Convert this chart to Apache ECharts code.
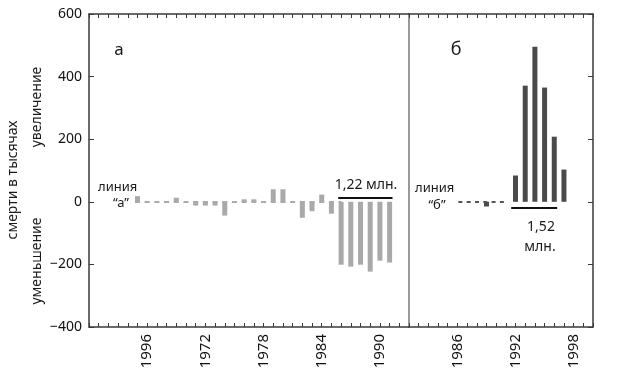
<!DOCTYPE html>
<html>
<head>
	<meta charset="UTF-8" />
	<title>Смерти в тысячах</title>
	<style>
		html, body { margin: 0; padding: 0; background: #fff; }
		#chart { width: 635px; height: 378px; }
	</style>
	<script type="text/javascript" src="https://cdn.jsdelivr.net/npm/echarts@6/dist/echarts.min.js"></script>
</head>
<body>
	<div id="chart"></div>
	<script>
		// панель "а"
		var leftYears = [1965, 1966, 1967, 1968, 1969, 1970, 1971, 1972, 1973, 1974, 1975, 1976, 1977, 1978,
			1979, 1980, 1981, 1982, 1983, 1984, 1985, 1986, 1987, 1988, 1989, 1990, 1991];
		var leftValues = [18, 0, 0, 0, 13, 0, -12, -12, -12, -44, 0, 8, 8, 0,
			40, 40, 0, -51, -30, 23, -38, -201, -207, -201, -223, -188, -194];
		var leftLabelYears = [1966, 1972, 1978, 1984, 1990];
		var leftLabelText = ["1996", "1972", "1978", "1984", "1990"];

		// панель "б"
		var rightYears = [1989, 1992, 1993, 1994, 1995, 1996, 1997];
		var rightValues = [-15, 84, 371, 495, 365, 208, 103];
		var rightLabelYears = [1986, 1992, 1998];
		var rightLabelText = ["1986", "1992", "1998"];

		var FONT = "Noto Sans";
		var AXIS = "#3a3a3a";

		var myChart = echarts.init(document.getElementById("chart"));

		function pairs(xs, ys) {
			return xs.map(function (x, i) { return [x, ys[i]]; });
		}

		// годовые засечки: interval 1, подписи только у нужных лет
		function xAxis(gridIndex, min, max, pos, labelYears, labelText) {
			return {
				type: "value",
				gridIndex: gridIndex,
				position: pos,
				min: min,
				max: max,
				interval: 1,
				splitLine: { show: false },
				axisLine: { show: true, onZero: false, lineStyle: { color: AXIS, width: 1.5 } },
				axisTick: { show: true, inside: true, length: 4, lineStyle: { color: AXIS, width: 1 } },
				axisLabel: {
					show: !!labelYears,
					rotate: 90,
					margin: 7,
					color: "#111",
					fontFamily: FONT,
					fontSize: 15,
					showMinLabel: true,
					showMaxLabel: true,
					formatter: function (v) {
						if (!labelYears) return "";
						var i = labelYears.indexOf(v);
						return i >= 0 ? labelText[i] : "";
					}
				}
			};
		}

		function yAxis(gridIndex, pos, labels, lineColor, ticks) {
			return {
				type: "value",
				gridIndex: gridIndex,
				position: pos,
				min: -400,
				max: 600,
				interval: 200,
				splitLine: { show: false },
				axisLine: { show: true, lineStyle: { color: lineColor, width: 1.5 } },
				axisTick: { show: ticks, inside: true, length: 5, lineStyle: { color: AXIS } },
				axisLabel: {
					show: labels,
					margin: 7,
					color: "#111",
					fontFamily: FONT,
					fontSize: 14,
					formatter: function (v) { return String(v).replace("-", "\u2212"); }
				}
			};
		}

		function text(t, x, y, size, align, rot) {
			return {
				type: "text",
				x: x,
				y: y,
				rotation: rot || 0,
				silent: true,
				style: {
					text: t,
					fill: "#1a1a1a",
					fontFamily: FONT,
					fontSize: size,
					align: align || "center",
					verticalAlign: "middle"
				}
			};
		}

		var dashedA = { color: "#aaa", width: 2, type: [5, 4.7] };
		var dashedB = { color: "#555", width: 2, type: [4, 4.3] };
		var bracket = { color: "#111", width: 2, type: "solid" };

		var option = {
			animation: false,
			grid: [
				{ left: 89, top: 14, width: 320, height: 313 },
				{ left: 409, top: 14, width: 184, height: 313 }
			],
			xAxis: [
				xAxis(0, 1960, 1993, "bottom", leftLabelYears, leftLabelText),
				xAxis(1, 1981, 2000, "bottom", rightLabelYears, rightLabelText),
				xAxis(0, 1960, 1993, "top"),
				xAxis(1, 1981, 2000, "top")
			],
			yAxis: [
				yAxis(0, "left", true, AXIS, true),
				yAxis(1, "right", false, AXIS, true),
				yAxis(1, "left", false, "#777", false)
			],
			series: [
				{
					type: "bar",
					xAxisIndex: 0,
					yAxisIndex: 0,
					barWidth: 5,
					itemStyle: { color: "#a9a9a9" },
					data: pairs(leftYears, leftValues),
					markLine: {
						silent: true,
						symbol: "none",
						label: { show: false },
						data: [
							[{ coord: [1964.74, 0], lineStyle: dashedA }, { coord: [1986, 0], lineStyle: dashedA }],
							[{ coord: [1985.7, 12], lineStyle: bracket }, { coord: [1991.3, 12], lineStyle: bracket }]
						]
					}
				},
				{
					type: "bar",
					xAxisIndex: 1,
					yAxisIndex: 1,
					barWidth: 5,
					itemStyle: { color: "#4a4a4a" },
					data: pairs(rightYears, rightValues),
					markLine: {
						silent: true,
						symbol: "none",
						label: { show: false },
						data: [
							[{ coord: [1986.1, 0], lineStyle: dashedB }, { coord: [1991, 0], lineStyle: dashedB }],
							[{ coord: [1991.55, -20], lineStyle: bracket }, { coord: [1996.3, -20], lineStyle: bracket }]
						]
					}
				}
			],
			graphic: [
				text("смерти в тысячах", 13, 180, 14, "center", Math.PI / 2),
				text("увеличение", 37, 107, 14, "center", Math.PI / 2),
				text("уменьшение", 37, 261, 14, "center", Math.PI / 2),
				text("а", 119, 50, 17),
				text("б", 456, 50, 18),
				text("линия", 98, 187, 13, "left"),
				text("\u201cа\u201d", 121, 203, 13),
				text("1,22 млн.", 366, 185, 14),
				text("линия", 415, 188, 13, "left"),
				text("\u201cб\u201d", 437, 205, 13),
				text("1,52", 541, 227, 14),
				text("млн.", 540, 247, 14)
			]
		};

		myChart.setOption(option);
	</script>
</body>
</html>
